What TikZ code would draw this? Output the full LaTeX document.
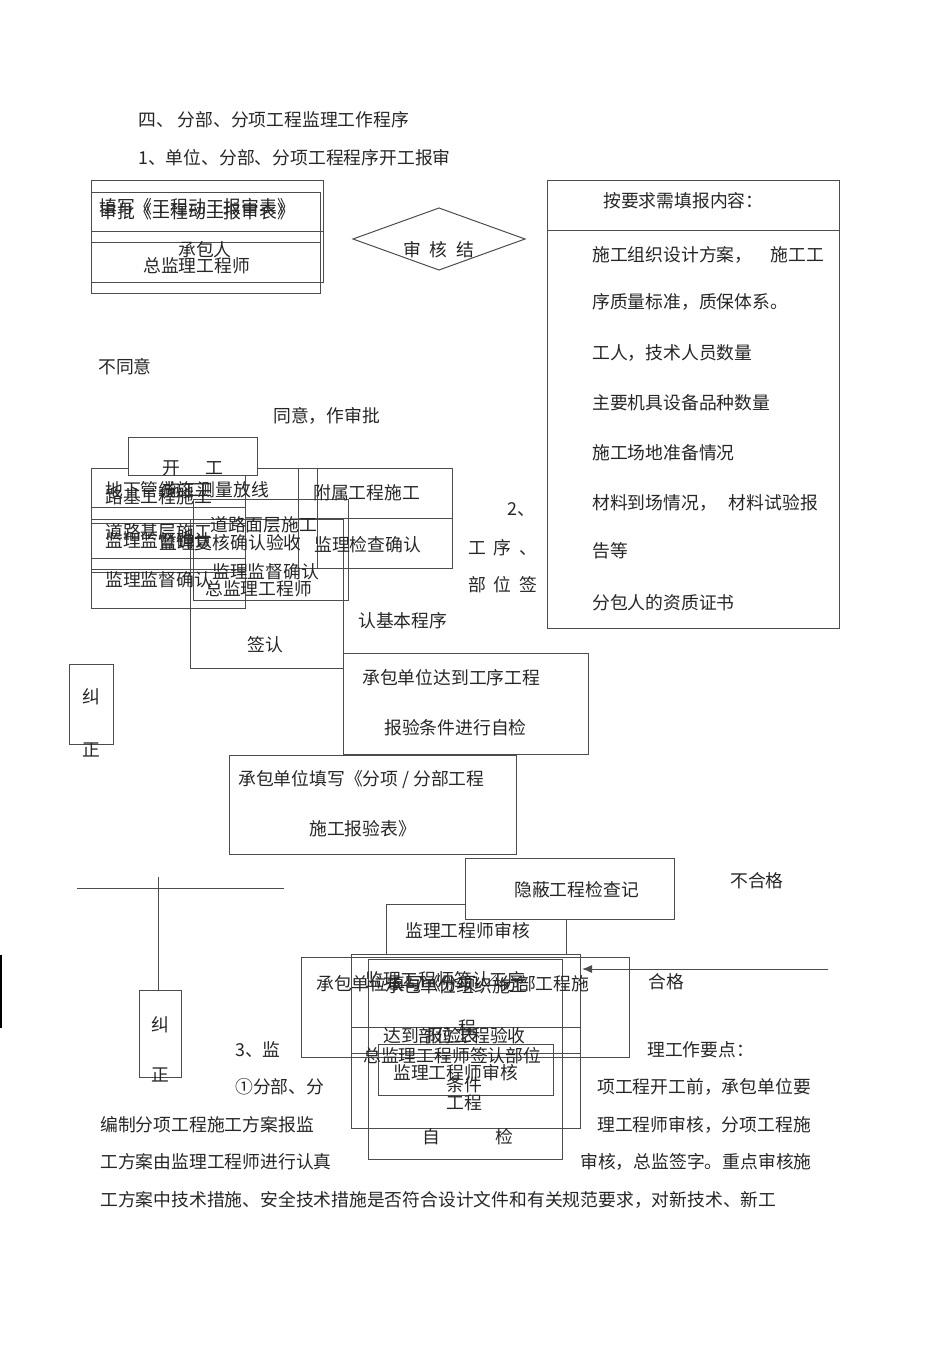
\documentclass[tikz,border=0pt]{standalone}
\usepackage{fontspec}
\setmainfont{Noto Sans CJK SC}
\usetikzlibrary{arrows.meta}
\begin{document}
\begin{tikzpicture}[x=1pt,y=-1pt,
 line/.style={draw=black!70,line width=1pt},
 txt/.style={anchor=west,inner sep=0pt,text=black!85,font=\fontsize{17.8}{20}\selectfont},
 ctxt/.style={txt,anchor=center}]
\useasboundingbox (0,0) rectangle (950,1345);
\node[txt] (title) at (138,120) {四、 分部、分项工程监理工作程序};
\node[txt] (sub1) at (138,158) {1、单位、分部、分项工程程序开工报审};
% report forms
\draw[line] (91,180) rectangle (323,282);
\draw[line] (91,192) rectangle (320,293);
\draw[line] (91,231) -- (323,231);
\draw[line] (91,242) -- (320,242);
\node[txt] (fillForm) at (99,207) {填写《工程动工报审表》};
\node[txt] (apprForm) at (99,212) {审批《工程动工报审表》};
\node[txt] (contractor) at (178,250) {承包人};
\node[txt] (chiefEng) at (143,266) {总监理工程师};
\draw[line] (353,239) -- (439,208) -- (525,239) -- (439,270) -- cycle;
\node[txt] (auditRes) at (403,250) {审\hspace{9pt}核\hspace{9pt}结};
% contents list
\draw[line] (547,180) rectangle (839,628);
\draw[line] (547,230) -- (839,230);
\node[txt] (listHead) at (603,201) {按要求需填报内容：};
\node[txt] (item1) at (592,255) {施工组织设计方案，\hspace{18pt}施工工};
\node[txt] (item1b) at (592,302) {序质量标准，质保体系。};
\node[txt] (item2) at (592,353) {工人，技术人员数量};
\node[txt] (item3) at (592,403) {主要机具设备品种数量};
\node[txt] (item4) at (592,453) {施工场地准备情况};
\node[txt] (item5) at (592,503) {材料到场情况，\hspace{12pt}材料试验报};
\node[txt] (item5b) at (592,551) {告等};
\node[txt] (item6) at (592,603) {分包人的资质证书};
\node[txt] (disagree) at (98,367) {不同意};
\node[txt] (agree) at (273,416) {同意，作审批};
% start of works
\draw[line] (91,468) -- (452,468);
\draw[line] (91,468) rectangle (245,608);
\foreach \yy in {507,523,558,569,572} \draw[line] (91,\yy) -- (245,\yy);
\draw[line] (91,519) -- (190,519);
\draw[line] (298,468) rectangle (452,568);
\draw[line] (298,518) -- (452,518);
\draw[line] (317,468) -- (317,568);
\draw[line] (193,499) rectangle (348,600);
\draw[line] (190,519) rectangle (343,668);
\draw[line,fill=white] (128,437) rectangle (257,475);
\node[txt] (kaigong) at (162,468) {开\hspace{26pt}工};
\node[txt] (roadBase) at (105,497) {路基工程施工};
\node[txt] (pipeWork) at (105,490) {地下管线施工};
\node[txt] (survey) at (162,490) {施工测量放线};
\node[txt] (auxWork) at (313,493) {附属工程施工};
\node[txt] (surface) at (210,525) {道路面层施工};
\node[txt] (baseCourse) at (105,532) {道路基层施工};
\node[txt] (supA) at (105,541) {监理监督确认};
\node[txt] (recheck) at (159,543) {监理复核确认验收};
\node[txt] (inspect) at (314,545) {监理检查确认};
\node[txt] (supB) at (212,572) {监理监督确认};
\node[txt] (supC) at (105,580) {监理监督确认};
\node[txt] (chiefB) at (205,589) {总监理工程师};
\node[txt] (signB) at (247,645) {签认};
\node[txt] (sec2a) at (507,510) {2、};
\node[txt] (sec2b) at (468,548) {工\hspace{8pt}序\hspace{8pt}、};
\node[txt] (sec2c) at (468,585) {部\hspace{8pt}位\hspace{8pt}签};
\node[txt] (sec2d) at (358,621) {认基本程序};
% correction
\draw[line] (69,664) rectangle (113,744);
\node[ctxt] (jiuA) at (91,697) {纠};
\node[ctxt] (zhengA) at (91,750) {正};
\draw[line] (343,653) rectangle (588,754);
\node[txt] (selfChk1) at (362,678) {承包单位达到工序工程};
\node[txt] (selfChk2) at (384,728) {报验条件进行自检};
\draw[line] (229,755) rectangle (516,854);
\node[txt] (reportA) at (238,780) {承包单位填写《分项 / 分部工程};
\node[txt] (reportB) at (309,829) {施工报验表》};
\coordinate (teeL) at (77,888);
\coordinate (teeR) at (284,888);
\coordinate (teeT) at (158,877);
\draw[line] (teeL) -- (teeR);
\draw[line] (139,990) rectangle (181,1077);
\draw[line] (teeT) -- (158,990);
\node[ctxt] (jiuB) at (160,1025) {纠};
\node[ctxt] (zhengB) at (160,1075) {正};
\draw[black,line width=2pt] (1,955) -- (1,1028);
% checks
\draw[line] (386,904) rectangle (566,954);
\node[txt] (engAudit) at (405,931) {监理工程师审核};
\draw[line,fill=white] (465,858) rectangle (674,919);
\node[txt] (hidden) at (514,890) {隐蔽工程检查记};
\node[txt] (fail) at (730,881) {不合格};
\node[txt] (pass) at (648,982) {合格};
\draw[line] (301,957) rectangle (629,1057);
\draw[line] (351,954) rectangle (580,1128);
\draw[line] (368,959) rectangle (562,1159);
\draw[line] (351,1027) -- (580,1027);
\draw[line] (351,1053) -- (580,1053);
\draw[line] (378,1044) rectangle (553,1095);
\node[txt] (fillB) at (316,984) {承包单位填写《分项\hspace{3pt}／\hspace{3pt}分部工程施};
\node[txt] (signSeq) at (365,980) {监理工程师签认工序};
\node[txt] (orgWork) at (385,986) {承包单位组织施工};
\node[txt] (cheng) at (458,1028) {程};
\node[txt] (partAcc) at (383,1036) {达到部位工程验收};
\node[txt] (repForm) at (425,1036) {报验表};
\node[txt] (chiefSign) at (363,1056) {总监理工程师签认部位};
\node[txt] (engAudit2) at (393,1073) {监理工程师审核};
\node[txt] (cond) at (446,1085) {条件};
\node[txt] (proj) at (446,1103) {工程};
\node[txt] (selfB) at (422,1137) {自\hspace{55pt}检};
\coordinate (passStart) at (828,969);
\coordinate (passEnd) at (582,969);
\draw[line,-{Latex[length=10pt,width=8pt]}] (passStart) -- (passEnd);
% section 3
\node[txt] (sec3a) at (235,1050) {3、监};
\node[txt] (sec3b) at (647,1050) {理工作要点：};
\node[txt] (p1a) at (235,1087) {①分部、分};
\node[txt] (p1b) at (597,1087) {项工程开工前，承包单位要};
\node[txt] (p2a) at (100,1125) {编制分项工程施工方案报监};
\node[txt] (p2b) at (597,1125) {理工程师审核，分项工程施};
\node[txt] (p3a) at (100,1162) {工方案由监理工程师进行认真};
\node[txt] (p3b) at (580,1162) {审核，总监签字。重点审核施};
\node[txt] (p4) at (100,1200) {工方案中技术措施、安全技术措施是否符合设计文件和有关规范要求，对新技术、新工};
\end{tikzpicture}
\end{document}
